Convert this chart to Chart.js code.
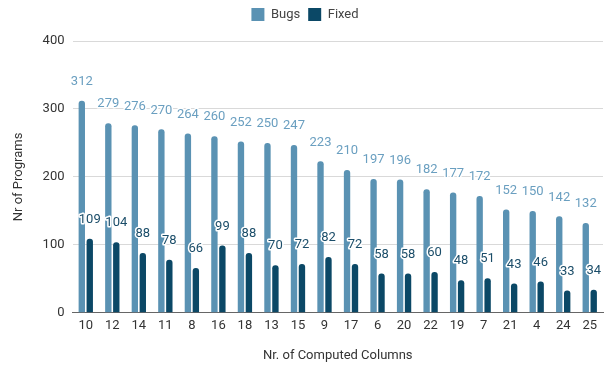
<!DOCTYPE html>
<html>
<head>
<meta charset="utf-8">
<script src="https://cdn.jsdelivr.net/npm/chart.js@4"></script>
<style>
  html, body { margin: 0; padding: 0; background: #fff; }
  #wrap { width: 605px; height: 366px; }
</style>
</head>
<body>
<div id="wrap"><canvas id="c" width="605" height="366"></canvas></div>
<script>
// Number of computed columns per program group
const categories = ['10','12','14','11','8','16','18','13','15','9','17','6','20','22','19','7','21','4','24','25'];
// Programs with bugs per group
const bugs = [312,279,276,270,264,260,252,250,247,223,210,197,196,182,177,172,152,150,142,132];
// Programs whose bugs were fixed
const fixed = [109,104,88,78,66,99,88,70,72,82,72,58,58,60,48,51,43,46,33,34];
const yTicks = [0,100,200,300,400];

const BUGS_COLOR = '#5a92b3';
const FIXED_COLOR = '#0b4866';
const FONT = 'Roboto, "Noto Sans", sans-serif';

// Draws each bar's value above it with a white halo
const valueLabels = {
  id: 'valueLabels',
  afterDatasetsDraw(chart) {
    const ctx = chart.ctx;
    ctx.save();
    ctx.font = '13px ' + FONT;
    ctx.textAlign = 'center';
    ctx.textBaseline = 'middle';
    ctx.lineJoin = 'round';
    chart.data.datasets.forEach((ds, di) => {
      const meta = chart.getDatasetMeta(di);
      meta.data.forEach((bar, i) => {
        const txt = String(ds.data[i]);
        const y = bar.y - 19;
        ctx.lineWidth = 3;
        ctx.strokeStyle = '#ffffff';
        ctx.strokeText(txt, bar.x, y);
        ctx.fillStyle = ds.labelColor;
        ctx.fillText(txt, bar.x, y);
      });
    });
    ctx.restore();
  }
};

// Extra room between the legend and the plot area
const legendGap = {
  id: 'legendGap',
  beforeInit(chart) {
    const origFit = chart.legend.fit;
    chart.legend.fit = function () {
      origFit.call(this);
      this.height += 10;
    };
  }
};

const barStyle = {
  borderRadius: { topLeft: 3, topRight: 3 },
  borderSkipped: 'bottom',
  categoryPercentage: 0.6,
  barPercentage: 0.8
};

new Chart(document.getElementById('c'), {
  type: 'bar',
  data: {
    labels: categories,
    datasets: [
      Object.assign({ label: 'Bugs', data: bugs, backgroundColor: BUGS_COLOR, labelColor: '#6a9fc0' }, barStyle),
      Object.assign({ label: 'Fixed', data: fixed, backgroundColor: FIXED_COLOR, labelColor: '#1b4d69' }, barStyle)
    ]
  },
  options: {
    responsive: false,
    animation: false,
    layout: { padding: { left: 7, right: 2, top: 0, bottom: 0 } },
    plugins: {
      legend: {
        position: 'top',
        labels: {
          boxWidth: 13, boxHeight: 13, padding: 8,
          color: '#444', font: { size: 13, family: FONT }
        }
      },
      tooltip: { enabled: false }
    },
    scales: {
      x: {
        grid: { display: false, drawTicks: false },
        border: { display: true, color: '#666', width: 1 },
        ticks: { color: '#333', font: { size: 13, family: FONT }, padding: 5 },
        title: { display: true, text: 'Nr. of Computed Columns', color: '#333',
                 font: { size: 13, family: FONT }, padding: { top: 10, bottom: 2 } }
      },
      y: {
        min: 0, max: 400,
        afterBuildTicks(axis) { axis.ticks = yTicks.map(v => ({ value: v })); },
        grid: { color: '#d9d9d9', drawTicks: false },
        border: { display: false },
        ticks: { color: '#333', font: { size: 13, family: FONT }, padding: 8 },
        title: { display: true, text: 'Nr of Programs', color: '#333',
                 font: { size: 13, family: FONT }, padding: { bottom: 8 } }
      }
    }
  },
  plugins: [valueLabels, legendGap]
});
</script>
</body>
</html>
